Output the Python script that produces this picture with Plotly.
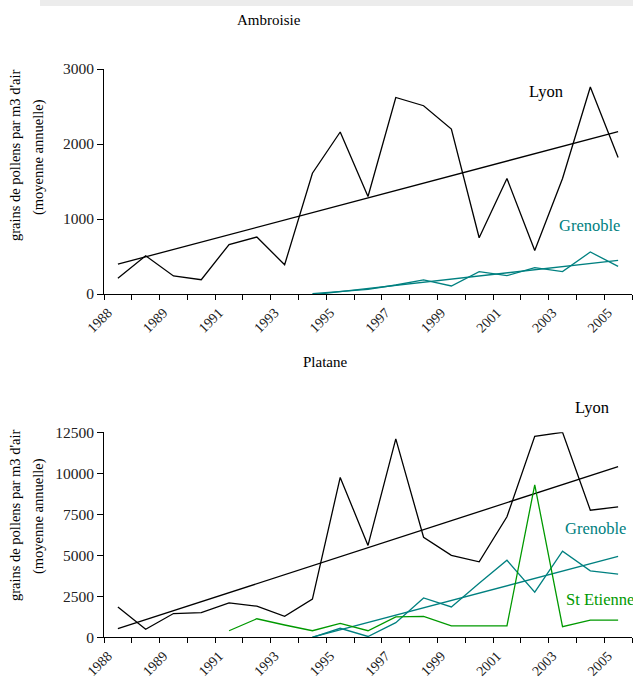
import numpy as np
import plotly.graph_objects as go

# ---- data ----
n_cat = 19
cat_index = list(range(n_cat))
tick_index = [0, 2, 4, 6, 8, 10, 12, 14, 16, 18]
tick_labels = ["1988", "1989", "1991", "1993", "1995", "1997", "1999", "2001", "2003", "2005"]

amb_lyon = [210, 510, 240, 190, 660, 760, 390, 1610, 2160, 1300, 2620, 2510, 2200, 750, 1540, 580, 1540, 2760, 1820]
amb_grenoble = [None] * 7 + [5, 31, 62, 120, 187, 107, 298, 244, 351, 298, 560, 369]

pla_lyon = [1850, 490, 1450, 1500, 2100, 1900, 1280, 2330, 9750, 5600, 12100, 6100, 5000, 4600, 7350, 12250, 12500, 7750, 7950]
pla_grenoble = [None] * 7 + [0, 550, 50, 890, 2400, 1850, 3300, 4700, 2750, 5250, 4050, 3850]
pla_stetienne = [None] * 4 + [400, 1130, 750, 400, 850, 400, 1250, 1270, 700, 700, 700, 9300, 650, 1050, 1050]

BLACK = "#000000"
TEAL = "#008080"
GREEN = "#009900"
FONT = "Liberation Serif"
W, H = 633, 680


def trend(vals):
    xs = np.array([i for i, v in zip(cat_index, vals) if v is not None], dtype=float)
    ys = np.array([v for v in vals if v is not None], dtype=float)
    k, b = np.polyfit(xs, ys, 1)
    return [xs[0], xs[-1]], [k * xs[0] + b, k * xs[-1] + b]


fig = go.Figure()


def add_series(vals, color, xa, ya, with_trend=True):
    fig.add_trace(go.Scatter(x=cat_index, y=vals, mode="lines", line=dict(color=color, width=1.3),
                             xaxis=xa, yaxis=ya, showlegend=False, connectgaps=False, hoverinfo="skip"))
    if with_trend:
        tx, ty = trend(vals)
        fig.add_trace(go.Scatter(x=tx, y=ty, mode="lines", line=dict(color=color, width=1.3),
                                 xaxis=xa, yaxis=ya, showlegend=False, hoverinfo="skip", cliponaxis=True))


add_series(amb_lyon, BLACK, "x", "y")
add_series(amb_grenoble, TEAL, "x", "y")
add_series(pla_lyon, BLACK, "x2", "y2")
add_series(pla_grenoble, TEAL, "x2", "y2")
add_series(pla_stetienne, GREEN, "x2", "y2", with_trend=False)

xdom = [104 / W, 632 / W]
top_dom = [1 - 294 / H, 1 - 69 / H]
bot_dom = [1 - 637.3 / H, 1 - 432.3 / H]

xcommon = dict(range=[-0.5, n_cat - 0.5], tickmode="array", tickvals=tick_index, ticktext=tick_labels,
               tickangle=-45, ticks="", showline=True, linecolor=BLACK, linewidth=1, showgrid=False,
               zeroline=False, tickfont=dict(family=FONT, size=14, color="#222222"), automargin=False,
               ticklabelshift=-10, ticklabelstandoff=4,
               minor=dict(ticks="outside", ticklen=5, tickcolor=BLACK, tickwidth=1, tick0=-0.5, dtick=1,
                          showgrid=False),
               fixedrange=True)
ycommon = dict(showline=True, linecolor=BLACK, linewidth=1, ticks="outside", ticklen=6, tickcolor=BLACK,
               showgrid=False, zeroline=False, tickformat="d", tickmode="array", automargin=False,
               tickfont=dict(family=FONT, size=15.5, color="#222222"), fixedrange=True)

fig.update_layout(
    template="none",
    width=W, height=H, margin=dict(l=0, r=0, t=0, b=0, autoexpand=False),
    paper_bgcolor="white", plot_bgcolor="white",
    font=dict(family=FONT),
    xaxis=dict(domain=xdom, anchor="y", **xcommon),
    yaxis=dict(domain=top_dom, anchor="x", range=[0, 3000], tickvals=[0, 1000, 2000, 3000], **ycommon),
    xaxis2=dict(domain=xdom, anchor="y2", **xcommon),
    yaxis2=dict(domain=bot_dom, anchor="x2", range=[0, 12500], tickvals=[0, 2500, 5000, 7500, 10000, 12500],
                **ycommon),
)

# top grey band
fig.add_shape(type="rect", xref="paper", yref="paper", x0=40 / W, x1=1, y0=1 - 6 / H, y1=1,
              fillcolor="#ececec", line=dict(width=0), layer="below")


def ann(text, x, y, color=BLACK, size=15, xanchor="center", angle=0):
    fig.add_annotation(text=text, xref="paper", yref="paper", x=x / W, y=1 - y / H, showarrow=False,
                       xanchor=xanchor, yanchor="middle", textangle=angle,
                       font=dict(family=FONT, size=size, color=color))


ann("Ambroisie", 269, 20)
ann("Platane", 325, 362)
ytitle1 = "grains de pollens par m3 d'air"
ytitle2 = "(moyenne annuelle)"
ann(ytitle1, 15, 155, size=14.5, angle=-90)
ann(ytitle2, 38, 157, size=14.5, angle=-90)
ann(ytitle1, 15, 515, size=14.5, angle=-90)
ann(ytitle2, 38, 516, size=14.5, angle=-90)

ann("Lyon", 527, 92, size=16.5, xanchor="left")
ann("Grenoble", 557, 226, color=TEAL, size=16.5, xanchor="left")
ann("Lyon", 573, 407, size=16.5, xanchor="left")
ann("Grenoble", 563, 528, color=TEAL, size=16.5, xanchor="left")
ann("St Etienne", 564, 599, color=GREEN, size=16.5, xanchor="left")

fig.write_html("out.html")
